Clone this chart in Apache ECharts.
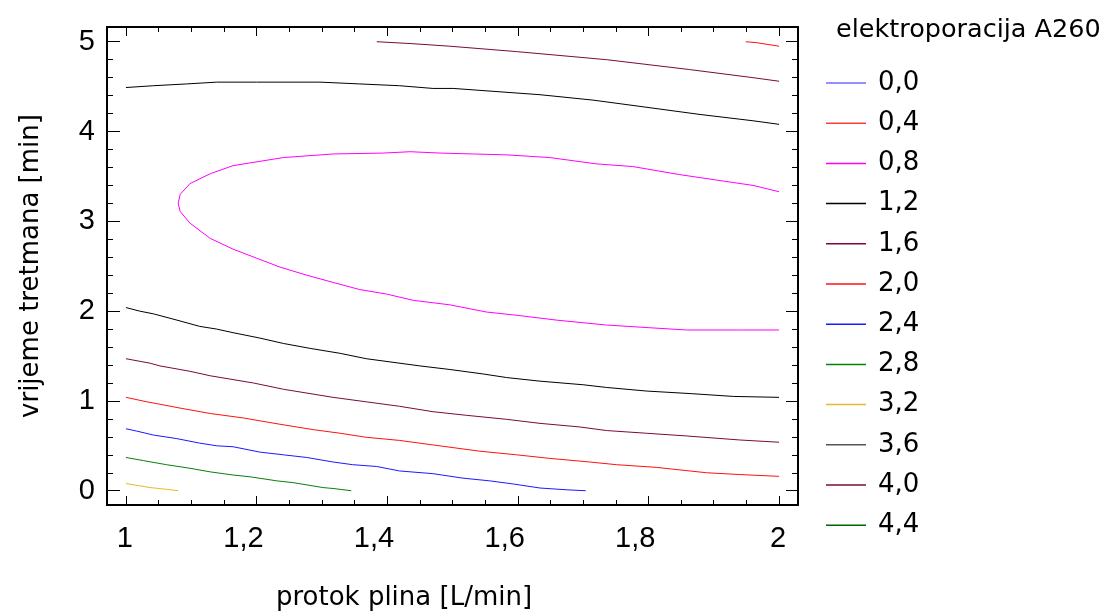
<!DOCTYPE html>
<html>
<head>
<meta charset="utf-8">
<script src="https://cdn.jsdelivr.net/npm/echarts@6/dist/echarts.min.js"></script>
<style>
html,body{margin:0;padding:0;background:#fff;}
#chart{width:1106px;height:612px;}
</style>
</head>
<body>
<div id="chart"></div>
<script>
// ---- data ----
const X_MAJOR = [1, 1.2, 1.4, 1.6, 1.8, 2];
const X_MINOR = [1.05, 1.1, 1.15, 1.25, 1.3, 1.35, 1.45, 1.5, 1.55, 1.65, 1.7, 1.75, 1.85, 1.9, 1.95];
const Y_MAJOR = [0, 1, 2, 3, 4, 5];
const Y_MINOR = [0.2, 0.4, 0.6, 0.8, 1.2, 1.4, 1.6, 1.8, 2.2, 2.4, 2.6, 2.8, 3.2, 3.4, 3.6, 3.8, 4.2, 4.4, 4.6, 4.8];
const LEVELS = ['0,0', '0,4', '0,8', '1,2', '1,6', '2,0', '2,4', '2,8', '3,2', '3,6', '4,0', '4,4'];

const L08 = [[2.0,3.33],[1.96,3.40],[1.904,3.46],[1.848,3.52],[1.776,3.61],[1.72,3.64],[1.649,3.71],[1.583,3.74],[1.532,3.75],[1.481,3.76],[1.435,3.775],[1.394,3.76],[1.317,3.75],[1.241,3.71],[1.164,3.62],[1.129,3.53],[1.098,3.42],[1.083,3.30],[1.080,3.20],[1.083,3.11],[1.098,2.98],[1.129,2.81],[1.164,2.69],[1.2,2.59],[1.236,2.49],[1.277,2.40],[1.317,2.32],[1.358,2.24],[1.399,2.19],[1.44,2.12],[1.496,2.07],[1.552,1.99],[1.603,1.95],[1.659,1.90],[1.736,1.845],[1.802,1.815],[1.858,1.79],[1.94,1.79],[2.0,1.79]];
const L12_TOP = [[1.0,4.49],[1.042,4.51],[1.093,4.53],[1.139,4.55],[1.2,4.55],[1.297,4.55],[1.358,4.53],[1.419,4.51],[1.47,4.48],[1.501,4.48],[1.634,4.41],[1.715,4.35],[1.787,4.28],[1.879,4.19],[1.96,4.12],[2.0,4.08]];
const L16_TOP = [[1.384,5.0],[1.435,4.98],[1.496,4.95],[1.598,4.89],[1.736,4.80],[1.863,4.69],[1.96,4.60],[2.0,4.56]];
const L20_TOP = [[1.949,5.0],[1.965,4.99],[2.0,4.95]];
const L12_BOT = [[1.0,2.04],[1.021,2.00],[1.042,1.97],[1.078,1.90],[1.113,1.83],[1.139,1.80],[1.164,1.76],[1.205,1.70],[1.241,1.64],[1.282,1.585],[1.328,1.53],[1.368,1.47],[1.409,1.43],[1.45,1.39],[1.496,1.35],[1.547,1.30],[1.583,1.26],[1.634,1.22],[1.70,1.18],[1.736,1.15],[1.797,1.11],[1.868,1.08],[1.93,1.05],[2.0,1.04]];
const L16_BOT = [[1.0,1.47],[1.037,1.42],[1.052,1.39],[1.098,1.33],[1.129,1.28],[1.195,1.20],[1.241,1.13],[1.317,1.04],[1.368,0.99],[1.419,0.94],[1.47,0.88],[1.521,0.84],[1.583,0.795],[1.634,0.75],[1.695,0.71],[1.736,0.67],[1.797,0.64],[1.858,0.61],[1.94,0.565],[2.0,0.54]];
const L20_BOT = [[1.0,1.04],[1.032,0.99],[1.047,0.97],[1.083,0.92],[1.129,0.86],[1.18,0.81],[1.236,0.74],[1.287,0.68],[1.328,0.64],[1.368,0.595],[1.419,0.56],[1.47,0.51],[1.542,0.44],[1.598,0.40],[1.649,0.36],[1.71,0.32],[1.751,0.29],[1.812,0.26],[1.889,0.20],[1.94,0.18],[2.0,0.16]];
const L24 = [[1.0,0.69],[1.016,0.665],[1.042,0.62],[1.078,0.58],[1.113,0.53],[1.139,0.50],[1.164,0.49],[1.205,0.43],[1.241,0.40],[1.277,0.37],[1.317,0.32],[1.347,0.29],[1.384,0.27],[1.419,0.22],[1.47,0.19],[1.516,0.14],[1.557,0.11],[1.593,0.075],[1.634,0.03],[1.675,0.01],[1.704,0.0]];
const L28 = [[1.0,0.37],[1.027,0.335],[1.062,0.29],[1.098,0.25],[1.129,0.21],[1.164,0.175],[1.19,0.155],[1.231,0.11],[1.256,0.09],[1.302,0.035],[1.317,0.025],[1.345,0.0]];
const L32 = [[1.0,0.08],[1.037,0.035],[1.057,0.02],[1.08,0.0]];

// ---- styles ----
const LEVEL_COLORS = {
  '0,0': '#6b6bff', '0,4': '#ff3b3b', '0,8': '#ff00ff', '1,2': '#000000',
  '1,6': '#7a0a3e', '2,0': '#ff1010', '2,4': '#1a1aff', '2,8': '#0a800a',
  '3,2': '#e8b830', '3,6': '#555555', '4,0': '#7a0a3e', '4,4': '#006400'
};
const CONTOURS = [
  ['0,8', L08], ['1,2', L12_TOP], ['1,6', L16_TOP], ['2,0', L20_TOP],
  ['1,2', L12_BOT], ['1,6', L16_BOT], ['2,0', L20_BOT],
  ['2,4', L24], ['2,8', L28], ['3,2', L32]
];
const XMIN = 0.971, XMAX = 2.029, YMIN = -0.159, YMAX = 5.164;
const GRID_W = 691, GRID_H = 478;
const LABEL_SHIFT = 7 * (XMAX - XMIN) / GRID_W; // x labels sit right-aligned, 7px right of their tick
const TICK_FONT = {fontFamily: 'Liberation Sans', fontSize: 29, color: '#000'};
const NAME_FONT = {fontFamily: 'DejaVu Sans', fontSize: 26, color: '#000'};
const fmt = v => String(Math.round(v * 10) / 10).replace('.', ',');
const lineSt = {color: '#000', width: 2};

function xAx(pos, ticks, len) {
  return {
    type: 'value', position: pos, min: XMIN, max: XMAX, gridIndex: 0,
    splitLine: {show: false},
    axisLine: {show: true, onZero: false, lineStyle: lineSt},
    axisTick: {show: true, inside: true, length: len, customValues: ticks, lineStyle: {color: '#000', width: 1}},
    axisLabel: {show: false}
  };
}
function yAx(pos, ticks, len, labels) {
  return {
    type: 'value', position: pos, min: YMIN, max: YMAX, gridIndex: 0,
    splitLine: {show: false},
    axisLine: {show: true, onZero: false, lineStyle: lineSt},
    axisTick: {show: true, inside: true, length: len, customValues: ticks, lineStyle: {color: '#000', width: 1}},
    axisLabel: labels ? Object.assign({show: true, customValues: ticks, formatter: fmt, margin: 12}, TICK_FONT) : {show: false}
  };
}

const xAxes = [xAx('bottom', X_MAJOR, 9), xAx('bottom', X_MINOR, 5), xAx('top', X_MAJOR, 9), xAx('top', X_MINOR, 5)];
xAxes[0].name = 'protok plina [L/min]';
xAxes[0].nameLocation = 'middle';
xAxes[0].nameGap = 80;
xAxes[0].nameTextStyle = Object.assign({padding: [0, 97, 0, 0]}, NAME_FONT);
// label-only axis for the x tick labels
xAxes.push({
  type: 'value', position: 'bottom', min: XMIN - LABEL_SHIFT, max: XMAX - LABEL_SHIFT, gridIndex: 0,
  splitLine: {show: false}, axisLine: {show: false}, axisTick: {show: false},
  axisLabel: Object.assign({show: true, customValues: X_MAJOR, formatter: fmt, margin: 19, align: 'right'}, TICK_FONT)
});
const yAxes = [yAx('left', Y_MAJOR, 13, true), yAx('left', Y_MINOR, 6, false), yAx('right', Y_MAJOR, 12, false), yAx('right', Y_MINOR, 6, false)];
yAxes[0].name = 'vrijeme tretmana [min]';
yAxes[0].nameLocation = 'middle';
yAxes[0].nameGap = 63;
yAxes[0].nameTextStyle = NAME_FONT;

const series = [];
LEVELS.forEach(lv => {
  const parts = CONTOURS.filter(c => c[0] === lv);
  if (parts.length === 0) {
    series.push({type: 'line', name: lv, data: [], color: LEVEL_COLORS[lv], itemStyle: {color: LEVEL_COLORS[lv]}});
  }
  parts.forEach(p => {
    series.push({
      type: 'line', name: lv, data: p[1], xAxisIndex: 0, yAxisIndex: 0,
      showSymbol: false, symbol: 'none', smooth: false, silent: true,
      color: LEVEL_COLORS[lv],
      lineStyle: {color: LEVEL_COLORS[lv], width: 1},
      itemStyle: {color: LEVEL_COLORS[lv]}
    });
  });
});

const chart = echarts.init(document.getElementById('chart'), null, {renderer: 'canvas'});
chart.setOption({
  animation: false,
  backgroundColor: '#fff',
  title: {
    text: 'elektroporacija A260', left: 831, top: 12,
    textStyle: {fontFamily: 'DejaVu Sans', fontSize: 25.5, fontWeight: 'normal', color: '#000'}
  },
  legend: {
    orient: 'vertical', left: 821, top: 63, icon: 'rect',
    itemWidth: 40, itemHeight: 1.5, itemGap: 10.2,
    data: LEVELS, selectedMode: false,
    textStyle: {fontFamily: 'DejaVu Sans', fontSize: 26, color: '#000', lineHeight: 30, padding: [0, 0, 0, 7]}
  },
  grid: {left: 107, top: 27, width: GRID_W, height: GRID_H, containLabel: false, outerBoundsMode: 'none'},
  xAxis: xAxes,
  yAxis: yAxes,
  series: series
});
</script>
</body>
</html>
